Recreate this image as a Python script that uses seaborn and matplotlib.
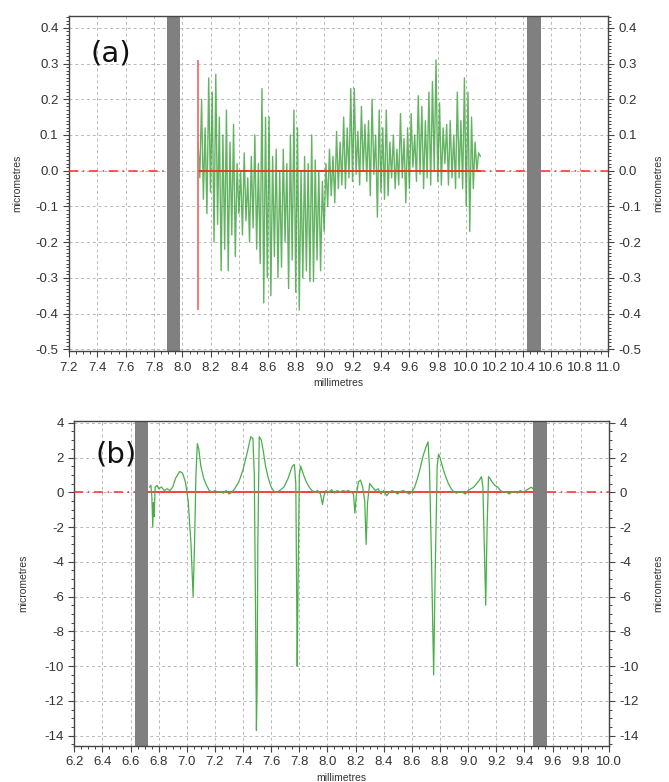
import numpy as np
import pandas as pd
import matplotlib
matplotlib.use("Agg")
import matplotlib.pyplot as plt
import seaborn as sns
from matplotlib.ticker import MultipleLocator

# panel (a): fine waviness profile, 160 samples from 8.11 to 10.10 mm
a_start, a_end = 8.11, 10.10
a_vals = [
    0.08, -0.02, 0.20, -0.08, 0.12, -0.12, 0.26, -0.06,
    0.22, -0.20, 0.27, -0.15, 0.15, -0.28, 0.10, -0.22,
    0.17, -0.28, 0.08, -0.18, 0.13, -0.24, 0.02, -0.12,
    0.00, -0.18, 0.05, -0.14, -0.02, -0.20, 0.04, -0.16,
    0.10, -0.22, 0.02, -0.26, 0.23, -0.37, 0.15, -0.30,
    0.15, -0.35, 0.04, -0.24, 0.06, -0.30, 0.00, -0.27,
    0.06, -0.20, 0.02, -0.33, 0.10, -0.25, 0.17, -0.34,
    0.12, -0.39, 0.00, -0.30, 0.04, -0.28, 0.02, -0.31,
    0.10, -0.31, 0.03, -0.25, 0.00, -0.28, -0.03, -0.17,
    0.02, -0.10, 0.06, -0.07, 0.04, -0.09, 0.11, -0.05,
    0.08, -0.04, 0.15, -0.05, 0.12, -0.02, 0.23, -0.03,
    0.23, -0.01, 0.11, -0.04, 0.18, 0.00, 0.13, -0.03,
    0.14, -0.07, 0.20, -0.01, 0.10, -0.13, 0.17, -0.06,
    0.12, -0.08, 0.17, -0.07, 0.08, -0.02, 0.10, -0.05,
    0.06, -0.04, 0.16, -0.02, 0.09, -0.09, 0.12, -0.05,
    0.16, 0.01, 0.10, -0.03, 0.21, -0.01, 0.18, -0.05,
    0.14, -0.02, 0.22, -0.04, 0.25, 0.00, 0.31, -0.03,
    0.19, -0.04, 0.12, 0.02, 0.13, -0.04, 0.14, -0.02,
    0.10, -0.05, 0.22, -0.02, 0.14, -0.05, 0.26, -0.10,
    0.22, -0.17, 0.15, -0.05, 0.08, 0.00, 0.05, 0.04,
]
a_bars = [(7.89, 7.98), (10.43, 10.53)]
a_marker = (8.11, -0.39, 0.31)   # red start line: x, ymin, ymax

# panel (b): profile with dips
b_x = [6.735, 6.745, 6.752, 6.758, 6.763, 6.768, 6.775, 6.79, 6.80, 6.82,
       6.84, 6.86, 6.88, 6.90, 6.92, 6.95, 6.97, 6.99, 7.01, 7.03,
       7.045, 7.055, 7.065, 7.075, 7.085, 7.10, 7.12, 7.14, 7.16, 7.18,
       7.20, 7.22, 7.24, 7.26, 7.28, 7.30, 7.32, 7.34, 7.37, 7.40,
       7.43, 7.455, 7.47, 7.48, 7.49, 7.495, 7.50, 7.505, 7.515, 7.53,
       7.545, 7.56, 7.58, 7.60, 7.62, 7.64, 7.66, 7.69, 7.72, 7.75,
       7.765, 7.775, 7.78, 7.785, 7.79, 7.80, 7.81, 7.83, 7.85, 7.87,
       7.89, 7.91, 7.93, 7.95, 7.965, 7.975, 7.99, 8.01, 8.03, 8.05,
       8.07, 8.09, 8.11, 8.13, 8.15, 8.17, 8.185, 8.195, 8.205, 8.22,
       8.235, 8.25, 8.265, 8.275, 8.285, 8.30, 8.32, 8.34, 8.36, 8.38,
       8.40, 8.42, 8.44, 8.46, 8.48, 8.50, 8.52, 8.54, 8.56, 8.58,
       8.60, 8.62, 8.64, 8.66, 8.68, 8.70, 8.715, 8.725, 8.74, 8.755,
       8.765, 8.78, 8.79, 8.80, 8.82, 8.84, 8.86, 8.88, 8.90, 8.92,
       8.94, 8.96, 8.98, 9.00, 9.02, 9.04, 9.06, 9.08, 9.095, 9.105,
       9.115, 9.125, 9.135, 9.145, 9.155, 9.17, 9.19, 9.21, 9.23, 9.25,
       9.27, 9.29, 9.31, 9.33, 9.35, 9.37, 9.39, 9.41, 9.43, 9.45, 9.46]
b_y = [0.3, 0.4, -0.3, -2.0, -0.6, -1.4, 0.3, 0.4, 0.2, 0.3,
       0.1, 0.2, 0.1, 0.3, 0.8, 1.2, 1.1, 0.6, -0.5, -3.0,
       -6.0, -3.0, 1.0, 2.8, 2.5, 1.5, 0.8, 0.4, 0.1, 0.0,
       0.1, 0.0, 0.05, -0.05, 0.1, -0.1, 0.0, 0.2, 0.6, 1.3,
       2.3, 3.2, 3.1, 1.0, -8.0, -13.7, -11.0, -3.0, 3.2, 3.0,
       2.3, 1.5, 0.8, 0.3, 0.05, 0.0, 0.1, 0.3, 0.8, 1.5,
       1.6, 0.5, -5.0, -10.0, -6.0, 1.0, 1.5, 1.0, 0.6, 0.3,
       0.1, 0.0, 0.1, -0.1, -0.7, -0.2, 0.1, 0.0, 0.15, -0.05,
       0.1, 0.0, 0.1, 0.05, 0.1, 0.0, -0.1, -1.2, -0.2, 0.6,
       0.7, 0.3, -0.5, -3.0, -0.6, 0.5, 0.3, 0.1, 0.2, -0.1,
       0.1, -0.2, 0.0, 0.1, 0.0, -0.1, 0.05, 0.1, 0.0, -0.1,
       0.0, 0.3, 0.8, 1.4, 2.1, 2.6, 2.9, 1.5, -4.0, -10.5,
       -5.0, 1.5, 2.2, 2.0, 1.4, 0.9, 0.5, 0.2, 0.0, -0.05,
       0.05, 0.0, -0.1, 0.1, 0.2, 0.3, 0.5, 0.7, 0.9, 0.3,
       -3.0, -6.5, -2.0, 0.9, 0.8, 0.6, 0.4, 0.3, 0.1, 0.0,
       0.05, -0.1, 0.0, 0.05, -0.05, 0.1, 0.0, 0.1, 0.2, 0.3, 0.2]
b_bars = [(6.635, 6.725), (9.46, 9.56)]

df_a = pd.DataFrame({"x": np.linspace(a_start, a_end, len(a_vals)), "y": a_vals})
df_b = pd.DataFrame({"x": b_x, "y": b_y})

sns.set_style("ticks")
plt.rcParams["font.family"] = ["Liberation Sans Narrow", "Liberation Sans", "DejaVu Sans"]

fig = plt.figure(figsize=(6.69, 7.82), dpi=100)
ax_a = fig.add_axes([0.103, 0.551, 0.806, 0.4285])
ax_b = fig.add_axes([0.111, 0.046, 0.799, 0.4156])

red = "#ff2a2a"
grid_kw = dict(color="#b8b8b8", linestyle=(0, (3, 3)), linewidth=0.7)


def style_axes(ax, xlim, ylim, xmaj, xmin, ymaj, ymin, yfmt):
    ax.set_xlim(*xlim)
    ax.set_ylim(*ylim)
    ax.xaxis.set_major_locator(MultipleLocator(xmaj))
    ax.xaxis.set_minor_locator(MultipleLocator(xmin))
    ax.yaxis.set_major_locator(MultipleLocator(ymaj))
    ax.yaxis.set_minor_locator(MultipleLocator(ymin))
    ax.yaxis.set_major_formatter(plt.FuncFormatter(yfmt))
    ax.xaxis.set_major_formatter(plt.FuncFormatter(lambda v, p: f"{v:.1f}"))
    ax.grid(True, which="major", **grid_kw)
    ax.tick_params(which="both", direction="out", colors="#444444",
                   labelcolor="#333333", labelsize=9.5, right=True, labelright=True,
                   top=False)
    ax.tick_params(which="major", length=4, width=0.8)
    ax.tick_params(which="minor", length=2.5, width=0.7)
    for s in ax.spines.values():
        s.set_color("#444444")
        s.set_linewidth(1.0)
        s.set_visible(True)
    ax.set_xlabel("")
    ax.set_ylabel("")


# ---- panel (a)
for x0, x1 in a_bars:
    ax_a.axvspan(x0, x1, color="#808080", zorder=2, lw=0)
ax_a.plot([7.2, a_bars[0][0]], [0, 0], color=red, ls=(0, (6, 3, 1, 3)), lw=1.1, zorder=3)
ax_a.plot([a_start, a_bars[1][0]], [0, 0], color=red, ls=(0, (6, 3, 1, 3)), lw=1.1, zorder=3)
ax_a.plot([a_bars[1][1], 11.0], [0, 0], color=red, ls=(0, (6, 3, 1, 3)), lw=1.1, zorder=3)
sns.lineplot(data=df_a, x="x", y="y", ax=ax_a, color="#2f9a2f", lw=1.0, alpha=0.75,
             estimator=None, zorder=4)
ax_a.plot([a_start, a_end], [0, 0], color="#e83a1a", lw=1.3, zorder=5)
ax_a.vlines(a_marker[0], a_marker[1], a_marker[2], color="#f07070", lw=1.3, zorder=5)
style_axes(ax_a, (7.2, 11.0), (-0.505, 0.433), 0.2, 0.05, 0.1, 0.01,
           lambda v, p: f"{v:.1f}")
ax_a.text(0.04, 0.93, "(a)", transform=ax_a.transAxes, fontsize=21,
          family="DejaVu Sans", va="top", ha="left", color="#111111")

# ---- panel (b)
for x0, x1 in b_bars:
    ax_b.axvspan(x0, x1, color="#808080", zorder=2, lw=0)
ax_b.plot([6.2, b_bars[0][0]], [0, 0], color=red, ls=(0, (6, 3, 1, 3)), lw=1.1, zorder=3)
ax_b.plot([b_bars[1][1], 10.0], [0, 0], color=red, ls=(0, (6, 3, 1, 3)), lw=1.1, zorder=3)
ax_b.plot([b_bars[0][1], b_bars[1][0]], [0, 0], color="#ff3030", lw=1.3, zorder=3)
sns.lineplot(data=df_b, x="x", y="y", ax=ax_b, color="#4aae4a", lw=0.9,
             estimator=None, zorder=4)
style_axes(ax_b, (6.2, 10.0), (-14.6, 4.1), 0.2, 0.05, 2, 0.5,
           lambda v, p: f"{v:.0f}")
ax_b.text(0.04, 0.94, "(b)", transform=ax_b.transAxes, fontsize=21,
          family="DejaVu Sans", va="top", ha="left", color="#111111")

# axis titles
for ax, yc in [(ax_a, 0.5), (ax_b, 0.5)]:
    ax.text(-0.095, yc, "micrometres", transform=ax.transAxes, rotation=90,
            va="center", ha="center", fontsize=7.5, color="#333333")
    ax.text(1.093, yc, "micrometres", transform=ax.transAxes, rotation=90,
            va="center", ha="center", fontsize=7.5, color="#333333")
ax_a.text(0.5, -0.095, "millimetres", transform=ax_a.transAxes, va="center",
          ha="center", fontsize=7.5, color="#333333")
ax_b.text(0.5, -0.098, "millimetres", transform=ax_b.transAxes, va="center",
          ha="center", fontsize=7.5, color="#333333")

fig.savefig("out.png", dpi=100)
